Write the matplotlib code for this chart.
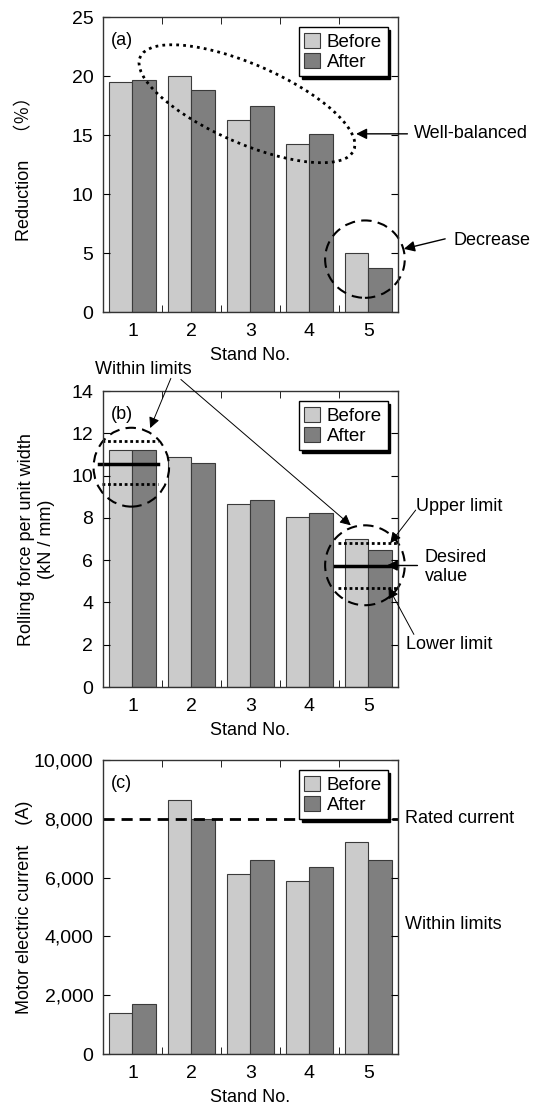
import numpy as np
import matplotlib
matplotlib.use("Agg")
import matplotlib.pyplot as plt
from matplotlib.patches import Ellipse
from matplotlib.ticker import FuncFormatter

plt.rcParams["font.family"] = ["Liberation Sans", "Noto Sans CJK JP", "DejaVu Sans"]
plt.rcParams["font.size"] = 13

stands = [1, 2, 3, 4, 5]

# (a) reduction, %
red_before = [19.5, 20.0, 16.3, 14.2, 5.0]
red_after = [19.7, 18.8, 17.5, 15.1, 3.7]

# (b) rolling force per unit width, kN/mm
force_before = [11.2, 10.86, 8.67, 8.05, 6.98]
force_after = [11.2, 10.59, 8.87, 8.22, 6.49]
limits_stand1 = [11.65, 10.57, 9.59]   # upper, desired, lower
limits_stand5 = [6.83, 5.73, 4.67]

# (c) motor electric current, A
cur_before = [1400, 8640, 6110, 5900, 7220]
cur_after = [1700, 7990, 6610, 6350, 6610]
rated_current = 8000

c_before = "#cbcbcb"
c_after = "#7f7f7f"

fig = plt.figure(figsize=(5.37, 11.06), dpi=100)
ax_a = fig.add_axes([0.1918, 0.7179, 0.5493, 0.2667])
ax_b = fig.add_axes([0.1918, 0.3788, 0.5493, 0.2676])
ax_c = fig.add_axes([0.1918, 0.0470, 0.5493, 0.2658])

x = np.array(stands)
w = 0.4


def draw_bars(ax, before, after, tag, ymax, ystep):
    ax.bar(x - w / 2, before, w, color=c_before, edgecolor="#3a3a3a", lw=0.8, label="Before")
    ax.bar(x + w / 2, after, w, color=c_after, edgecolor="#3a3a3a", lw=0.8, label="After")
    ax.set_xlim(0.5, 5.5)
    ax.set_ylim(0, ymax)
    ax.set_yticks(np.arange(0, ymax + ystep / 2, ystep))
    ax.set_xticks(stands)
    ax.set_xticks([1.5, 2.5, 3.5, 4.5], minor=True)
    ax.tick_params(axis="x", which="major", length=0, pad=8, labelsize=14)
    ax.tick_params(axis="x", which="minor", direction="in", length=5, top=True, bottom=True)
    ax.tick_params(axis="y", direction="in", length=5, left=True, right=True, pad=7, labelsize=14)
    for s in ax.spines.values():
        s.set_color("#333333")
        s.set_linewidth(1.0)
    ax.set_xlabel("Stand No.", labelpad=5)
    ax.text(0.027, 0.92, tag, transform=ax.transAxes, ha="left", va="center")
    leg = ax.legend(loc="upper right", fancybox=False, edgecolor="black", framealpha=1,
                    shadow={"color": "black", "alpha": 1}, handlelength=0.85, handleheight=0.85,
                    handletextpad=0.35, labelspacing=0.1, borderpad=0.3, borderaxespad=0.55,
                    fontsize=13.5)
    leg.get_frame().set_linewidth(1.0)


arrow = dict(arrowstyle="-|>", color="black", lw=1.0, mutation_scale=16, shrinkA=0, shrinkB=0)
thin_arrow = dict(arrowstyle="-|>", color="black", lw=0.7, mutation_scale=16, shrinkA=0, shrinkB=0)

# ---- (a)
draw_bars(ax_a, red_before, red_after, "(a)", 25, 5)
ax_a.set_ylabel("Reduction\u3000\uff08\uff05\uff09")
ax_a.yaxis.set_label_coords(-0.237, 0.5)
ax_a.add_patch(Ellipse((0.488, 0.706), 0.79, 0.267, angle=-23.6, transform=ax_a.transAxes,
                       fill=False, ls=(0, (1, 1.5)), lw=2, color="black", clip_on=False))
ax_a.add_patch(Ellipse((4.94, 4.48), 1.35, 6.56, fill=False, ls=(0, (5, 3)), lw=1.5,
                       color="black", clip_on=False))
ax_a.annotate("", xy=(4.79, 15.1), xytext=(5.66, 15.1), arrowprops=arrow, annotation_clip=False)
ax_a.text(5.77, 15.1, "Well-balanced", ha="left", va="center")
ax_a.annotate("", xy=(5.60, 5.35), xytext=(6.30, 6.2), arrowprops=arrow, annotation_clip=False)
ax_a.text(6.44, 6.1, "Decrease", ha="left", va="center")

# ---- (b)
draw_bars(ax_b, force_before, force_after, "(b)", 14, 2)
ax_b.set_ylabel("Rolling force per unit width\n(kN / mm)", linespacing=1.2)
ax_b.yaxis.set_label_coords(-0.163, 0.5)
for (x0, x1), lims in [((0.44, 1.43), limits_stand1), ((4.43, 5.48), limits_stand5)]:
    ax_b.plot([x0 + 0.05, x1], [lims[0]] * 2, color="black", lw=2, ls=(0, (1, 1)), clip_on=False)
    ax_b.plot([x0, x1], [lims[1]] * 2, color="black", lw=2.5, clip_on=False)
    ax_b.plot([x0 + 0.05, x1], [lims[2]] * 2, color="black", lw=2, ls=(0, (1, 1)), clip_on=False)
ax_b.add_patch(Ellipse((0.98, 10.4), 1.28, 3.73, fill=False, ls=(0, (5, 3)), lw=1.5,
                       color="black", clip_on=False))
ax_b.add_patch(Ellipse((4.94, 5.76), 1.35, 3.78, fill=False, ls=(0, (5, 3)), lw=1.5,
                       color="black", clip_on=False))
ax_b.text(1.19, 15.03, "Within limits", ha="center", va="center")
ax_b.annotate("", xy=(1.30, 12.25), xytext=(1.65, 14.6), arrowprops=thin_arrow, annotation_clip=False)
ax_b.annotate("", xy=(4.70, 7.65), xytext=(1.82, 14.55), arrowprops=thin_arrow, annotation_clip=False)
ax_b.text(5.80, 8.55, "Upper limit", ha="left", va="center")
ax_b.annotate("", xy=(5.37, 6.81), xytext=(5.80, 8.37), arrowprops=thin_arrow, annotation_clip=False)
ax_b.text(5.95, 5.67, "Desired\nvalue", ha="left", va="center", linespacing=1.2)
ax_b.annotate("", xy=(5.31, 5.75), xytext=(5.83, 5.75), arrowprops=arrow, annotation_clip=False)
ax_b.text(5.63, 2.02, "Lower limit", ha="left", va="center")
ax_b.annotate("", xy=(5.34, 4.71), xytext=(5.77, 2.49), arrowprops=thin_arrow, annotation_clip=False)

# ---- (c)
draw_bars(ax_c, cur_before, cur_after, "(c)", 10000, 2000)
ax_c.yaxis.set_major_formatter(FuncFormatter(lambda v, p: f"{int(v):,}"))
ax_c.set_ylabel("Motor electric current    (A)")
ax_c.yaxis.set_label_coords(-0.237, 0.5)
ax_c.axhline(rated_current, color="black", lw=2, ls=(0, (4, 2.5)))
ax_c.text(5.62, rated_current, "Rated current", ha="left", va="center")
ax_c.text(5.62, 4390, "Within limits", ha="left", va="center")

fig.savefig("out.png", dpi=100)
